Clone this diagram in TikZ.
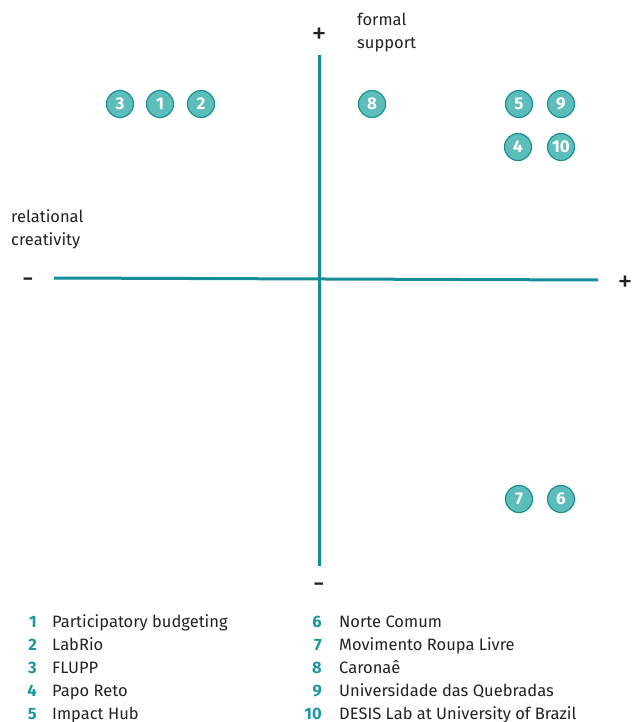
\documentclass[tikz,border=0pt]{standalone}
\usepackage{fontspec}
\setmainfont{Fira Sans}
\definecolor{axis}{HTML}{138E98}
\definecolor{dotfill}{HTML}{5CBDBB}
\definecolor{dotline}{HTML}{1A9096}
\definecolor{num}{HTML}{1A97A0}
\definecolor{txt}{HTML}{222222}
\begin{document}
\begin{tikzpicture}[x=1pt,y=-1pt,
  axisline/.style={draw=axis,line width=3pt},
  dot/.style={circle,fill=dotfill,draw=dotline,line width=1.2pt,minimum size=27pt,inner sep=0pt,text=white,font=\bfseries\fontsize{17}{17}\selectfont},
  lab/.style={text=txt,font=\fontsize{16.5}{23}\selectfont,align=left,inner sep=0pt},
  sign/.style={text=txt,font=\fontsize{30}{30}\selectfont,inner sep=0pt},
  lnum/.style={text=num,font=\bfseries\fontsize{16.5}{16.5}\selectfont,anchor=base east,inner sep=0pt},
  ltxt/.style={text=txt,font=\fontsize{16.5}{16.5}\selectfont,anchor=base west,inner sep=0pt}]
\useasboundingbox (0,0) rectangle (632,722);
\coordinate (vtop) at (319,55);
\coordinate (vbot) at (319,566);
\coordinate (hl) at (54,278);
\coordinate (hr) at (598,280);
\draw[axisline] (vtop) -- (vbot);
\draw[axisline] (hl) -- (hr);
\node[sign] (ptop) at (319,36) {+};
\node[sign] (mbot) at (319,588) {-};
\node[sign] (mleft) at (28,283) {-};
\node[sign] (pright) at (625,284) {+};
\node[lab,anchor=base west] (fs) at (357,49) {formal\\support};
\node[lab,anchor=base west] (rc) at (11,245) {relational\\creativity};
\node[dot] (d3) at (120,104) {3};
\node[dot] (d1) at (160,104) {1};
\node[dot] (d2) at (201,104) {2};
\node[dot] (d8) at (372,104) {8};
\node[dot] (d5) at (519,104) {5};
\node[dot] (d9) at (561,104) {9};
\node[dot] (d4) at (518,147) {4};
\node[dot] (d10) at (561,147) {10};
\node[dot] (d7) at (519,499) {7};
\node[dot] (d6) at (561,499) {6};
\foreach \n/\t/\y in {1/Participatory budgeting/627,2/LabRio/650,3/FLUPP/673,4/Papo Reto/696,5/Impact Hub/719}{
  \node[lnum] (n\n) at (37,\y) {\n};
  \node[ltxt] (t\n) at (52,\y) {\t};
}
\foreach \n/\t/\y in {6/Norte Comum/627,7/Movimento Roupa Livre/650,8/Caronaê/673,9/Universidade das Quebradas/696,10/DESIS Lab at University of Brazil/719}{
  \node[lnum] (n\n) at (322,\y) {\n};
  \node[ltxt] (t\n) at (339,\y) {\t};
}
\end{tikzpicture}
\end{document}
